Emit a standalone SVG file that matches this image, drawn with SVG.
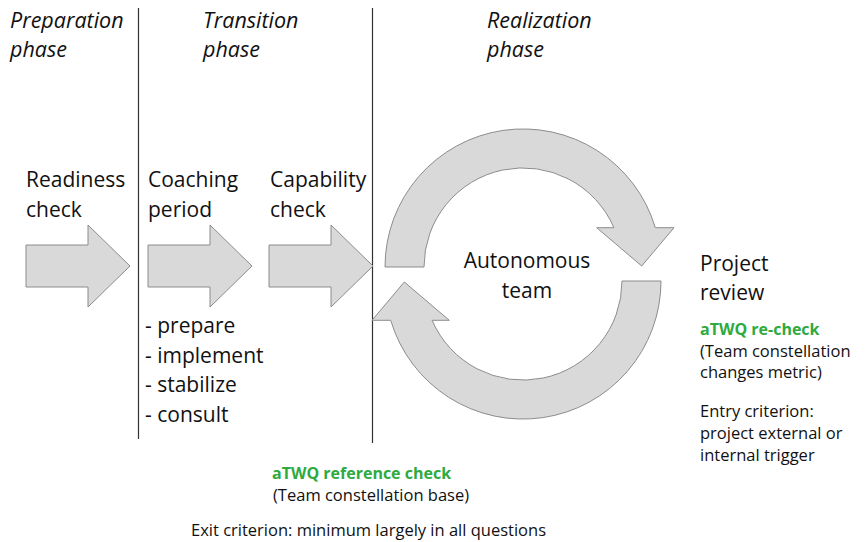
<svg xmlns="http://www.w3.org/2000/svg" width="867" height="542" viewBox="0 0 867 542">
<style>
text{font-family:"Open Sans","Noto Sans","Liberation Sans",sans-serif;fill:#111}
.ph{font-size:21.5px;font-style:italic}
.lb{font-size:21px}
.sm{font-size:16.5px}
.gr{font-size:16px;font-weight:bold;fill:#2eaa3e}
.shape{fill:#d9d9d9;stroke:#8c8c8c;stroke-width:1}
.sep{stroke:#333;stroke-width:1.2}
</style>
<defs>
<path id="blk" class="shape" d="M0 20 H62 V0 L104 41 L62 82 V62 H0 Z"/>
<path id="circ" class="shape" d="M385 267 A138 138 0 0 1 655.3 227.7 L674 227.7 L641.7 266 L596.7 227.7 L613.9 227.7 A99 99 0 0 0 424 267 Z"/>
</defs>
<g id="separators">
<line class="sep" x1="138.5" y1="8" x2="138.5" y2="439"/>
<line class="sep" x1="372.5" y1="8" x2="372.5" y2="443"/>
</g>
<g id="phases">
<text class="ph" x="10" y="28">Preparation</text>
<text class="ph" x="10" y="57">phase</text>
<text class="ph" x="203" y="28">Transition</text>
<text class="ph" x="203" y="57">phase</text>
<text class="ph" x="487" y="28">Realization</text>
<text class="ph" x="487" y="57">phase</text>
</g>
<g id="readiness">
<use href="#blk" x="26" y="225"/>
<text class="lb" x="26" y="187">Readiness</text>
<text class="lb" x="26" y="217">check</text>
</g>
<g id="coaching">
<use href="#blk" x="148" y="225"/>
<text class="lb" x="148" y="187">Coaching</text>
<text class="lb" x="148" y="217">period</text>
<text class="lb" x="145" y="333">- prepare</text>
<text class="lb" x="145" y="363">- implement</text>
<text class="lb" x="145" y="392">- stabilize</text>
<text class="lb" x="145" y="422">- consult</text>
</g>
<g id="capability">
<use href="#blk" x="269" y="225"/>
<text class="lb" x="270" y="187">Capability</text>
<text class="lb" x="270" y="217">check</text>
</g>
<g id="autonomous">
<use href="#circ"/>
<use href="#circ" transform="rotate(180 523 274)"/>
<text class="lb" x="527" y="268" text-anchor="middle">Autonomous</text>
<text class="lb" x="527" y="298" text-anchor="middle">team</text>
</g>
<g id="review">
<text class="lb" x="700" y="271">Project</text>
<text class="lb" x="700" y="300">review</text>
<text class="gr" x="700" y="335">aTWQ re-check</text>
<text class="sm" x="700" y="357">(Team constellation</text>
<text class="sm" x="700" y="378">changes metric)</text>
<text class="sm" x="700" y="417">Entry criterion:</text>
<text class="sm" x="700" y="439">project external or</text>
<text class="sm" x="700" y="461">internal trigger</text>
</g>
<g id="reference">
<text class="gr" x="272" y="479">aTWQ reference check</text>
<text class="sm" x="273" y="501">(Team constellation base)</text>
<text class="sm" x="191" y="536">Exit criterion: minimum largely in all questions</text>
</g>
</svg>
